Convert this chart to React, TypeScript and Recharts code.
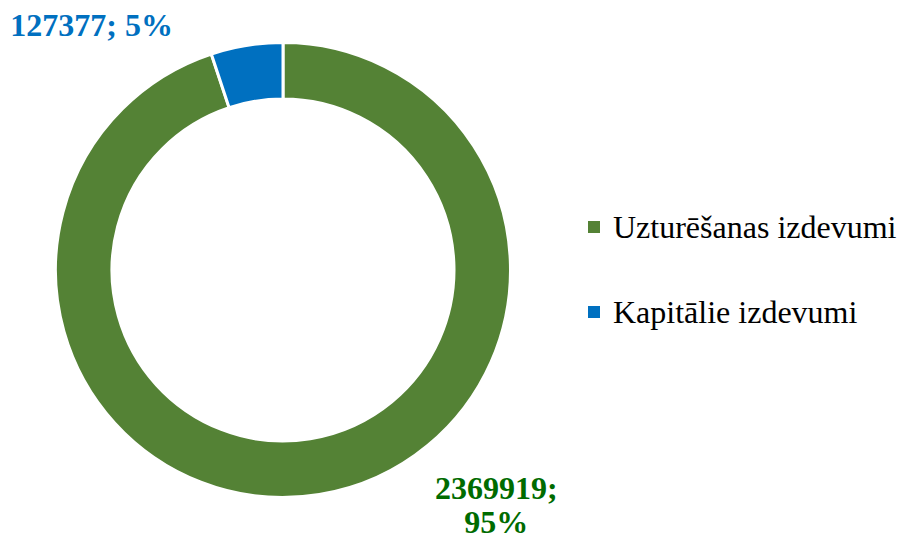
import { Cell, Legend, Pie, PieChart } from "recharts";

const categories = ["Uzturēšanas izdevumi", "Kapitālie izdevumi"];
const values = [2369919, 127377];
const sliceColors = ["#548235", "#0070C0"];
const labelColors = ["#006B00", "#0070C0"];

// where each data label sits relative to the slice's outer mid point
const labelOffsets = [
  { dx: 177, dy: 4, split: true },
  { dx: -155, dy: -9, split: false },
];

const data = categories.map((name, i) => ({ name, value: values[i] }));

const FONT = '"Liberation Serif", "Times New Roman", serif';
const RAD = Math.PI / 180;

function renderLabel(props: any) {
  const { cx, cy, midAngle, outerRadius, index, value, percent } = props;
  const x = cx + outerRadius * Math.cos(-midAngle * RAD);
  const y = cy + outerRadius * Math.sin(-midAngle * RAD);
  const off = labelOffsets[index];
  const pct = `${Math.round(percent * 100)}%`;
  const lx = x + off.dx;
  const ly = y + off.dy;
  return (
    <text
      key={`lbl-${index}`}
      x={lx}
      y={ly}
      textAnchor="middle"
      fill={labelColors[index]}
      fontFamily={FONT}
      fontSize={32}
      fontWeight="bold"
    >
      {off.split ? (
        <>
          <tspan x={lx} dy={0}>{`${value};`}</tspan>
          <tspan x={lx} dy={34}>{pct}</tspan>
        </>
      ) : (
        `${value}; ${pct}`
      )}
    </text>
  );
}

function LegendContent() {
  return (
    <div style={{ fontFamily: FONT, fontSize: 32, color: "#000" }}>
      {categories.map((name, i) => (
        <div
          key={name}
          style={{
            display: "flex",
            alignItems: "center",
            height: 32,
            lineHeight: "32px",
            marginBottom: 53,
            whiteSpace: "nowrap",
          }}
        >
          <span
            style={{
              display: "inline-block",
              width: 12,
              height: 12,
              background: sliceColors[i],
              marginRight: 13,
            }}
          />
          <span>{name}</span>
        </div>
      ))}
    </div>
  );
}

export default function App() {
  return (
    <div style={{ width: 897, height: 534, background: "#fff" }}>
      <style>{`body{margin:0}`}</style>
      <PieChart width={897} height={534} margin={{ top: 0, right: 0, bottom: 0, left: 0 }}>
        <Pie
          data={data}
          dataKey="value"
          nameKey="name"
          cx={283}
          cy={270}
          innerRadius={171}
          outerRadius={227.5}
          startAngle={90}
          endAngle={-270}
          stroke="#fff"
          strokeWidth={3}
          labelLine={false}
          label={renderLabel}
          isAnimationActive={false}
        >
          {data.map((d, i) => (
            <Cell key={d.name} fill={sliceColors[i]} />
          ))}
        </Pie>
        <Legend
          layout="vertical"
          verticalAlign="middle"
          align="right"
          content={<LegendContent />}
          wrapperStyle={{ left: 588, top: 211, width: 309 }}
        />
      </PieChart>
    </div>
  );
}
